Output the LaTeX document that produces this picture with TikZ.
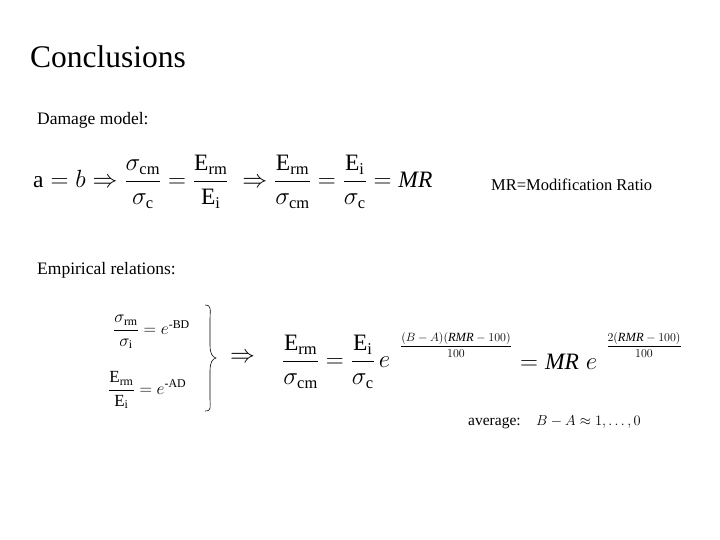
\documentclass[tikz,border=0pt]{standalone}
\usepackage{amsmath}
\usepackage{fontspec}
\setmainfont{Liberation Serif}
\newcommand{\rmsub}[1]{\mathrm{#1}}
\begin{document}
\begin{tikzpicture}[x=1pt,y=-1pt,every node/.style={inner sep=0pt},
  txt/.style={font=\fontsize{17.5}{21}\selectfont,anchor=west},
  eq/.style={font=\fontsize{23.5}{28}\selectfont}]
\useasboundingbox (0,0) rectangle (720,540);
\node[anchor=west,font=\fontsize{31.5}{36}\selectfont] (title) at (30,57) {Conclusions};
\node[txt] (dm) at (37,120) {Damage model:};
\node[eq,anchor=west] (eq1) at (33,182) {$\mathrm{a}=b\Rightarrow\dfrac{\sigma_{\rmsub{cm}}}{\sigma_{\rmsub{c}}}=\dfrac{\mathrm{E}_{\rmsub{rm}}}{\mathrm{E}_{\rmsub{i}}}\;\Rightarrow\dfrac{\mathrm{E}_{\rmsub{rm}}}{\sigma_{\rmsub{cm}}}=\dfrac{\mathrm{E}_{\rmsub{i}}}{\sigma_{\rmsub{c}}}=\mathit{MR}$};
\node[txt,font=\fontsize{16.5}{20}\selectfont] (mr) at (491,185) {MR=Modification Ratio};
\node[txt] (er) at (37,270) {Empirical relations:};
\node[anchor=west,font=\fontsize{17}{20}\selectfont] (r1) at (113,332) {$\dfrac{\sigma_{\rmsub{rm}}}{\sigma_{\rmsub{i}}}=e^{\text{-BD}}$};
\node[anchor=west,font=\fontsize{17}{20}\selectfont] (r2) at (108,390) {$\dfrac{\mathrm{E}_{\rmsub{rm}}}{\mathrm{E}_{\rmsub{i}}}=e^{\text{-AD}}$};
\draw[line width=0.6pt] (205,305) .. controls (212,305) and (210,310) .. (210,320) -- (210,345) .. controls (210,353) and (212,357) .. (216,358) .. controls (212,359) and (210,363) .. (210,371) -- (210,398) .. controls (210,407) and (212,411) .. (205,411);
\node[eq,anchor=west] (imp) at (230,358) {$\Rightarrow$};
\node[eq,anchor=west] (eq2) at (282,362) {$\dfrac{\mathrm{E}_{\rmsub{rm}}}{\sigma_{\rmsub{cm}}}=\dfrac{\mathrm{E}_{\rmsub{i}}}{\sigma_{\rmsub{c}}}\,e$};
\node[anchor=center,font=\fontsize{12.5}{15}\selectfont] (ex1) at (456,345) {$\dfrac{(B-A)(\mathit{RMR}-100)}{100}$};
\node[eq,anchor=west] (eq3) at (520,362) {$=\mathit{MR}\;e$};
\node[anchor=center,font=\fontsize{12.5}{15}\selectfont] (ex2) at (644,345) {$\dfrac{2(\mathit{RMR}-100)}{100}$};
\node[anchor=west,font=\fontsize{15.5}{18}\selectfont] (avg) at (468,422) {average:\quad $B-A\approx 1,\ldots,0$};
\end{tikzpicture}
\end{document}
